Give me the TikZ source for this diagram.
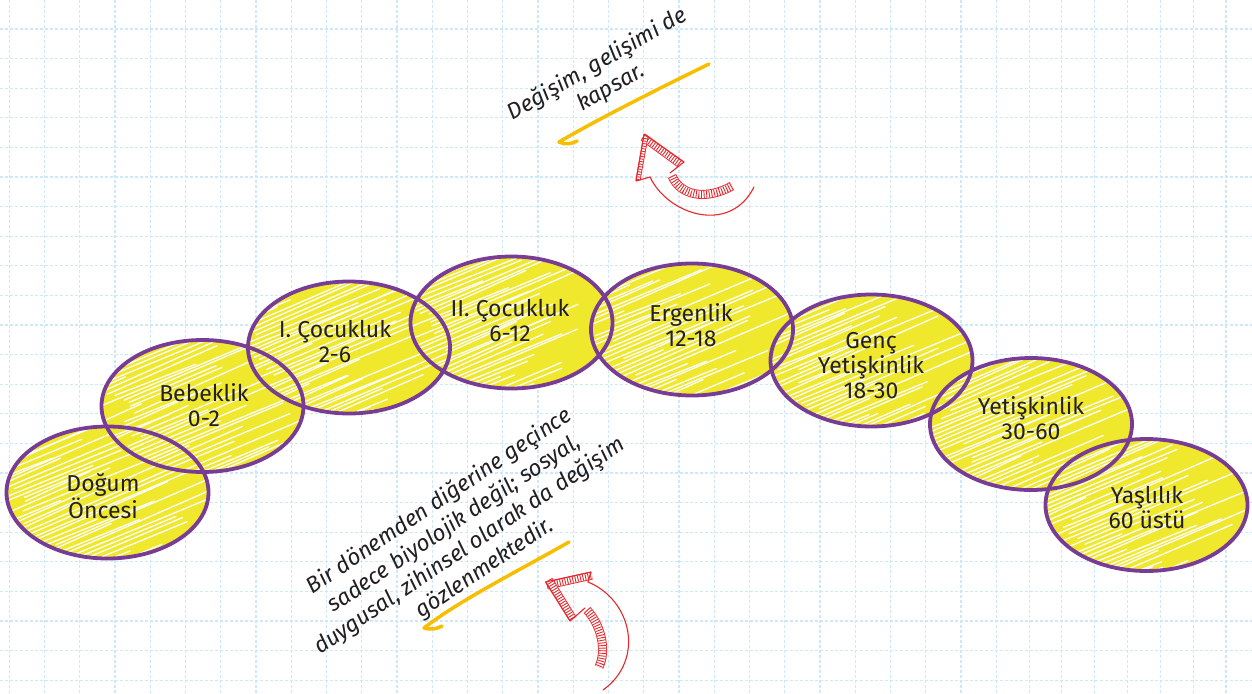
\documentclass[tikz,border=0pt]{standalone}
\usepackage{fontspec}
\setmainfont{Fira Sans}
\newfontfamily\hand{Fira Sans}
\usetikzlibrary{calc}
\definecolor{gridblue}{RGB}{205,232,248}
\definecolor{purp}{RGB}{120,60,150}
\definecolor{yel}{RGB}{240,232,45}
\definecolor{amber}{RGB}{247,190,0}
\definecolor{arrred}{RGB}{230,40,45}
\definecolor{ink}{RGB}{35,31,32}

\newcommand{\eggfill}[2]{%
  \begin{scope}
    \clip (#1,#2) ellipse [x radius=101pt, y radius=66pt];
    \fill[yel] (#1,#2) ellipse [x radius=101pt, y radius=66pt];
    \begin{scope}[shift={(#1,#2)}, rotate=23]
      \foreach \t in {-84,-80,...,84}{
        \pgfmathsetmacro\s{-135+rnd*70}
        \pgfmathsetmacro\l{60+rnd*150}
        \pgfmathsetmacro\w{(rnd-0.5)*6}
        \draw[white, line width=1.3pt, line cap=round] (\s pt,\t pt) -- ++(\l pt,\w pt);
      }
    \end{scope}
  \end{scope}}
\newcommand{\eggrim}[2]{\draw[rim] (#1,#2) ellipse [x radius=101pt, y radius=66pt];}
\newcommand{\hatchband}[3]{%
  \draw[arrred, line width=#1pt] #3;
  \draw[white, line width=#2pt] #3;
  \draw[arrred, line width=#2pt, dash pattern=on 0.9pt off 1.7pt] #3;}

\begin{document}
\begin{tikzpicture}[x=1pt,y=-1pt,
  gridline/.style={gridblue, line width=1.2pt, dash pattern=on 3pt off 2pt},
  period/.style={ink, font=\fontsize{23}{25}\selectfont, align=center, inner sep=0pt},
  note/.style={ink, font=\hand\itshape\fontsize{22.5}{27}\selectfont, align=center, inner sep=0pt},
  rim/.style={purp, line width=3.8pt},
  thinred/.style={arrred, line width=1.1pt, line join=round, line cap=round},
  underline/.style={amber, line width=3.5pt, line cap=round, line join=round}]
\pgfmathsetseed{7}
\useasboundingbox (0,0) rectangle (1252,693);
\fill[white] (0,0) rectangle (1252,693);

% grid
\foreach \k in {0,...,28} \draw[gridline] ({9.3+35.25*\k},0) -- ({9.3+35.25*\k},693);
\foreach \x in {1029.3,1061.7,1094.3,1127.3,1160.3,1193.3,1226} \draw[gridline] (\x,0) -- (\x,693);
\foreach \k in {0,...,22} \draw[gridline] (0,{29+29.6*\k}) -- (1252,{29+29.6*\k});

% ellipse fills
\eggfill{107.5}{492.5}
\eggfill{202.5}{406}
\eggfill{349}{347.5}
\eggfill{511.5}{322.5}
\eggfill{692}{329.5}
\eggfill{871.5}{360.5}
\eggfill{1031}{424}
\eggfill{1146.5}{505}
% ellipse rims
\eggrim{107.5}{492.5}
\eggrim{202.5}{406}
\eggrim{349}{347.5}
\eggrim{511.5}{322.5}
\eggrim{692}{329.5}
\eggrim{871.5}{360.5}
\eggrim{1031}{424}
\eggrim{1146.5}{505}

% labels
\node[period] (dogum) at (103,496) {Doğum\\Öncesi};
\node[period] (bebek) at (204,405) {Bebeklik\\0-2};
\node[period] (cocuk1) at (335,342) {I. Çocukluk\\2-6};
\node[period] (cocuk2) at (510,321) {II. Çocukluk\\6-12};
\node[period] (ergen) at (691,325) {Ergenlik\\12-18};
\node[period] (genc) at (871,366) {Genç\\Yetişkinlik\\18-30};
\node[period] (yetis) at (1031,418) {Yetişkinlik\\30-60};
\node[period] (yasli) at (1147,508) {Yaşlılık\\60 üstü};

% notes
\node[note, rotate=30] (topnote) at (604,76) {Değişim, gelişimi de\\kapsar.};
\node[note, rotate=34] (botnote) at (462,535) {Bir dönemden diğerine geçince\\sadece biyolojik değil; sosyal,\\duygusal, zihinsel olarak da değişim\\gözlenmektedir.};

% underlines
\draw[underline] (709,64) .. controls (660,88) and (600,118) .. (559,142) .. controls (565,145) and (572,144) .. (577,141);
\draw[underline] (569,542) .. controls (520,570) and (460,600) .. (424,628) .. controls (430,630) and (437,629) .. (442,626);

% top red arrow
\hatchband{8}{6.2}{(643,137) -- (680,164)}
\hatchband{5}{3.2}{(638,180) -- (646,136)}
\hatchband{9}{7.2}{(672,176) .. controls (680,195) and (705,201) .. (732,186)}
\draw[thinred] (650,177) -- (636,181) -- (644,134) -- (684,162) -- (670,173);
\draw[thinred] (650,177) .. controls (668,215) and (730,235) .. (754,187);

% bottom red arrow
\hatchband{8}{6.2}{(547,585.5) -- (592,575.5)}
\hatchband{8}{6.2}{(549,580) -- (573,619)}
\hatchband{9}{7.2}{(587,610) .. controls (601,625) and (607,650) .. (599,667)}
\draw[thinred] (588,582) -- (591,572) -- (545.5,582) -- (570,621) -- (585,608);
\draw[thinred] (588,582) .. controls (632,600) and (645,660) .. (603,690);
\end{tikzpicture}
\end{document}
